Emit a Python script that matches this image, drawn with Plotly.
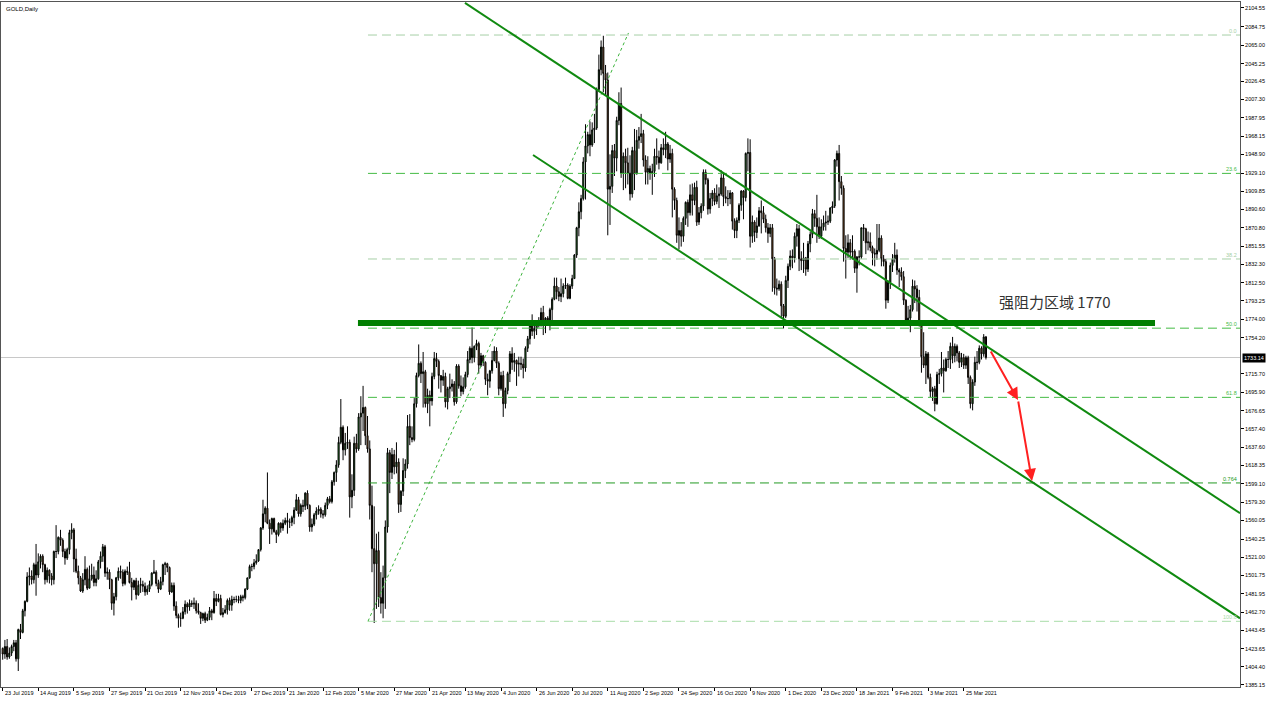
import plotly.graph_objects as go

# ---------------- data: daily GOLD candles (open, high, low, close) by month ----------------
ohlc_2019_07 = [(1424,1425,1412,1418),(1418,1433,1413,1426),(1426,1434,1412,1415),(1415,1425,1413,1419),
 (1419,1428,1416,1426),(1426,1433,1421,1430),(1430,1433,1410,1413)]
ohlc_2019_08 = [(1413,1445,1400,1444),(1444,1450,1434,1441),
 (1441,1466,1440,1464),(1464,1475,1458,1474),(1474,1505,1473,1500),(1500,1510,1491,1501),(1501,1507,1492,1497),
 (1497,1515,1493,1513),(1513,1535,1480,1502),(1502,1525,1499,1516),(1516,1524,1509,1522),(1522,1524,1505,1513),
 (1513,1514,1492,1497),(1497,1510,1494,1507),(1507,1508,1493,1501),(1501,1504,1491,1497),(1497,1528,1492,1527),
 (1527,1555,1520,1527),(1527,1543,1524,1542),(1542,1550,1533,1539),(1539,1541,1521,1527),(1527,1530,1513,1520)]
ohlc_2019_09 = [(1520,1531,1518,1529),(1529,1550,1524,1547),(1547,1557,1540,1550),(1550,1552,1505,1519),(1519,1530,1504,1506),
 (1506,1512,1492,1499),(1499,1501,1484,1485),(1485,1504,1483,1497),(1497,1522,1491,1508),(1508,1510,1486,1488),
 (1488,1512,1488,1498),(1498,1514,1496,1502),(1502,1511,1490,1494),(1494,1507,1490,1498),(1498,1518,1497,1516),
 (1516,1527,1509,1522),(1522,1535,1516,1532),(1532,1534,1500,1504),(1504,1510,1497,1505),(1505,1508,1487,1497),
 (1497,1498,1465,1472)]
ohlc_2019_10 = [(1472,1483,1459,1479),(1479,1500,1475,1499),(1499,1510,1496,1506),(1506,1512,1498,1505),
 (1505,1508,1490,1493),(1493,1508,1491,1506),(1506,1511,1502,1505),(1505,1516,1493,1494),(1494,1499,1475,1489),
 (1489,1497,1486,1496),(1496,1499,1476,1481),(1481,1496,1480,1491),(1491,1499,1483,1492),(1492,1496,1484,1490),
 (1490,1494,1480,1484),(1484,1491,1481,1487),(1487,1496,1484,1492),(1492,1505,1490,1504),(1504,1518,1503,1505),
 (1505,1507,1490,1493),(1493,1497,1483,1487),(1487,1500,1486,1495),(1495,1514,1491,1513)]
ohlc_2019_11 = [(1513,1516,1502,1514),
 (1514,1515,1505,1510),(1510,1511,1481,1484),(1484,1494,1483,1491),(1491,1494,1464,1469),(1469,1474,1456,1459),
 (1459,1461,1446,1456),(1456,1462,1447,1456),(1456,1468,1455,1463),(1463,1475,1460,1471),(1471,1473,1461,1468),
 (1468,1476,1464,1472),(1472,1475,1468,1471),(1471,1478,1466,1472),(1472,1475,1461,1464),(1464,1472,1460,1462),
 (1462,1463,1450,1456),(1456,1462,1453,1461),(1461,1463,1451,1454),(1454,1461,1453,1457),(1457,1468,1454,1464)]
ohlc_2019_12 = [(1464,1466,1454,1462),(1462,1485,1461,1477),(1477,1482,1469,1474),(1474,1482,1473,1477),(1477,1481,1459,1460),
 (1460,1467,1457,1462),(1462,1470,1461,1465),(1465,1477,1460,1475),(1475,1478,1464,1470),(1470,1480,1464,1476),
 (1476,1479,1472,1476),(1476,1480,1473,1476),(1476,1480,1472,1475),(1475,1481,1472,1479),(1479,1481,1474,1478),
 (1478,1488,1476,1487),(1487,1499,1486,1499),(1499,1513,1498,1511),(1511,1514,1506,1511),
 (1511,1519,1508,1515),(1515,1524,1513,1517)]
ohlc_2020_01 = [(1517,1529,1516,1529),(1529,1553,1527,1552),
 (1552,1582,1550,1567),(1567,1575,1558,1573),(1573,1611,1556,1557),(1557,1561,1535,1551),(1551,1563,1545,1562),
 (1562,1563,1547,1548),(1548,1550,1536,1545),(1545,1558,1543,1557),(1557,1558,1547,1552),(1552,1561,1549,1557),
 (1557,1563,1555,1560),(1560,1568,1546,1558),(1558,1562,1552,1558),(1558,1565,1554,1563),(1563,1574,1556,1571),
 (1571,1588,1570,1582),(1582,1585,1564,1567),(1567,1578,1564,1576),(1576,1582,1569,1575),(1575,1590,1571,1589)]
ohlc_2020_02 = [(1589,1592,1572,1576),(1576,1577,1548,1553),(1553,1562,1548,1556),(1556,1568,1554,1566),(1566,1574,1561,1570),
 (1570,1576,1566,1572),(1572,1574,1563,1567),(1567,1571,1562,1566),(1566,1579,1564,1576),(1576,1585,1572,1583),
 (1583,1586,1578,1580),(1580,1603,1578,1601),(1601,1612,1597,1611),(1611,1624,1601,1619),(1619,1649,1616,1643),
 (1643,1689,1641,1659),(1659,1661,1624,1635),(1635,1653,1629,1642),(1642,1660,1636,1643),(1643,1646,1563,1585)]
ohlc_2020_03 = [(1585,1609,1573,1592),(1592,1649,1586,1642),(1642,1652,1632,1636),(1636,1674,1634,1670),(1670,1692,1640,1674),
 (1674,1703,1655,1680),(1680,1681,1640,1650),(1650,1671,1632,1636),(1636,1645,1561,1576),(1576,1597,1505,1530),
 (1530,1575,1451,1514),(1514,1546,1466,1528),(1528,1548,1468,1478),(1478,1505,1461,1472),(1472,1512,1456,1499),
 (1499,1560,1466,1553),(1553,1637,1547,1632),(1632,1635,1589,1611),(1611,1637,1604,1630),(1630,1635,1609,1617),
 (1617,1643,1610,1622),(1622,1626,1568,1577)]
ohlc_2020_04 = [(1577,1592,1569,1591),(1591,1626,1586,1613),(1613,1625,1605,1620),
 (1620,1672,1615,1660),(1660,1673,1640,1648),(1648,1660,1643,1646),(1646,1690,1644,1684),
 (1684,1717,1680,1714),(1714,1747,1712,1727),(1727,1729,1706,1716),(1716,1739,1680,1718),(1718,1720,1680,1684),
 (1684,1700,1674,1693),(1693,1698,1660,1687),(1687,1717,1682,1713),(1713,1739,1710,1732),(1732,1738,1723,1729),
 (1729,1731,1700,1714),(1714,1714,1696,1709),(1709,1720,1703,1713),(1713,1717,1680,1686)]
ohlc_2020_05 = [(1686,1702,1678,1700),
 (1700,1716,1690,1702),(1702,1710,1697,1705),(1705,1708,1682,1686),(1686,1726,1684,1724),(1724,1726,1700,1703),
 (1703,1714,1692,1697),(1697,1712,1694,1702),(1702,1718,1700,1715),(1715,1740,1712,1731),(1731,1745,1727,1743),
 (1743,1765,1727,1733),(1733,1746,1728,1745),(1745,1752,1741,1748),(1748,1750,1716,1725),(1725,1738,1723,1735),
 (1735,1736,1724,1728),(1728,1729,1704,1710),(1710,1716,1693,1708),(1708,1720,1701,1719),(1719,1740,1716,1730)]
ohlc_2020_06 = [(1730,1745,1729,1740),(1740,1744,1722,1727),(1727,1729,1693,1700),(1700,1718,1698,1714),(1714,1719,1670,1684),
 (1684,1701,1679,1698),(1698,1718,1694,1716),(1716,1740,1707,1737),(1737,1744,1720,1728),(1728,1738,1718,1730),
 (1730,1731,1703,1726),(1726,1734,1713,1727),(1727,1734,1720,1726),(1726,1732,1711,1722),(1722,1745,1718,1743),
 (1743,1756,1739,1753),(1753,1769,1747,1768),(1768,1779,1756,1761),(1761,1768,1753,1764),(1764,1772,1757,1771),
 (1771,1776,1765,1772),(1772,1786,1766,1781)]
ohlc_2020_07 = [(1781,1788,1757,1769),(1769,1776,1759,1775),(1775,1777,1768,1773),
 (1773,1786,1762,1784),(1784,1797,1773,1795),(1795,1818,1794,1809),(1809,1818,1795,1803),(1803,1808,1793,1798),
 (1798,1817,1792,1801),(1801,1812,1797,1809),(1809,1818,1806,1810),(1810,1812,1795,1796),(1796,1811,1795,1809),
 (1809,1821,1806,1817),(1817,1843,1817,1842),(1842,1872,1839,1871),(1871,1898,1862,1888),(1888,1906,1880,1902),
 (1902,1946,1900,1941),(1941,1981,1901,1958),(1958,1973,1950,1970),(1970,1984,1947,1959),(1959,1983,1957,1975)]
ohlc_2020_08 = [(1975,1992,1961,1977),(1977,2020,1975,2018),(2018,2055,2016,2039),(2039,2070,2033,2063),(2063,2075,2015,2035),
 (2035,2044,2012,2028),(2028,2036,1863,1912),(1912,1949,1874,1915),(1915,1959,1908,1953),(1953,1960,1926,1945),
 (1945,1989,1931,1985),(1985,2015,1980,2003),(2003,2020,1924,1929),(1929,1951,1911,1947),(1947,1955,1913,1940),
 (1940,1956,1917,1929),(1929,1948,1900,1907),(1907,1957,1903,1953),(1953,1976,1911,1928),(1928,1975,1928,1964),
 (1964,1978,1955,1968)]
ohlc_2020_09 = [(1968,1992,1961,1971),(1971,1975,1936,1943),(1943,1948,1917,1930),(1930,1947,1917,1934),
 (1934,1937,1922,1929),(1929,1939,1906,1931),(1931,1955,1925,1947),(1947,1966,1938,1946),(1946,1953,1933,1940),
 (1940,1960,1939,1956),(1956,1966,1948,1954),(1954,1973,1945,1960),(1960,1962,1932,1944),(1944,1959,1940,1950),
 (1950,1955,1882,1912),(1912,1914,1890,1900),(1900,1903,1855,1863),(1863,1882,1848,1868),(1868,1877,1851,1862),
 (1862,1883,1856,1881),(1881,1899,1874,1898),(1898,1901,1872,1887)]
ohlc_2020_10 = [(1887,1917,1884,1906),(1906,1918,1884,1900),
 (1900,1919,1895,1914),(1914,1921,1873,1877),(1877,1893,1874,1887),(1887,1897,1881,1894),(1894,1933,1889,1930),
 (1930,1933,1917,1922),(1922,1924,1885,1891),(1891,1908,1886,1902),(1902,1911,1894,1908),(1908,1913,1895,1899),
 (1899,1917,1896,1905),(1905,1914,1892,1907),(1907,1932,1905,1924),(1924,1929,1894,1904),(1904,1915,1897,1902),
 (1902,1911,1894,1902),(1902,1911,1896,1908),(1908,1909,1869,1878),(1878,1881,1860,1868),(1868,1882,1860,1879)]
ohlc_2020_11 = [(1879,1897,1876,1895),(1895,1911,1889,1910),(1910,1911,1880,1903),(1903,1951,1899,1950),(1950,1966,1931,1951),
 (1951,1965,1850,1862),(1862,1884,1855,1877),(1877,1879,1856,1866),(1866,1882,1860,1873),(1873,1893,1872,1889),
 (1889,1900,1865,1887),(1887,1894,1876,1880),(1880,1885,1866,1871),(1871,1876,1855,1865),(1865,1875,1861,1871),
 (1871,1875,1803,1838),(1838,1840,1800,1807),(1807,1817,1799,1806),(1806,1815,1804,1811),(1811,1814,1775,1788),
 (1788,1790,1764,1777)]
ohlc_2020_12 = [(1777,1820,1775,1815),(1815,1833,1807,1830),(1830,1847,1826,1841),(1841,1848,1828,1839),
 (1839,1866,1834,1862),(1862,1875,1851,1870),(1870,1874,1825,1838),(1838,1846,1826,1836),(1836,1855,1823,1839),
 (1839,1840,1820,1827),(1827,1857,1824,1854),(1854,1867,1845,1864),(1864,1891,1860,1886),(1886,1890,1872,1881),
 (1881,1906,1855,1872),(1872,1882,1859,1862),(1862,1880,1859,1872),(1872,1884,1868,1876),
 (1876,1889,1868,1877),(1877,1884,1874,1878),(1878,1893,1876,1892),(1892,1899,1886,1894)]
ohlc_2021_01 = [(1894,1944,1892,1943),(1943,1953,1936,1950),(1950,1959,1900,1920),(1920,1926,1906,1913),(1913,1916,1835,1849),
 (1849,1863,1817,1845),(1845,1864,1839,1855),(1855,1859,1837,1845),(1845,1863,1837,1846),(1846,1848,1823,1828),
 (1828,1841,1802,1840),(1840,1847,1831,1840),(1840,1871,1838,1871),(1871,1875,1857,1870),(1870,1871,1843,1855),
 (1855,1867,1847,1856),(1856,1866,1846,1850),(1850,1852,1831,1844),(1844,1849,1830,1843),(1843,1875,1837,1847)]
ohlc_2021_02 = [(1847,1875,1845,1860),(1860,1863,1830,1838),(1838,1842,1830,1835),(1835,1838,1785,1794),(1794,1815,1791,1813),
 (1813,1834,1806,1831),(1831,1843,1824,1838),(1838,1855,1834,1842),(1842,1848,1821,1826),(1826,1828,1808,1824),
 (1824,1829,1815,1819),(1819,1825,1789,1794),(1794,1795,1769,1773),(1773,1788,1767,1775),(1775,1789,1760,1784),
 (1784,1816,1782,1809),(1809,1815,1791,1806),(1806,1810,1782,1797),(1797,1805,1766,1770),(1770,1771,1717,1734)]
ohlc_2021_03 = [(1734,1760,1722,1725),(1725,1740,1705,1737),(1737,1739,1710,1712),(1712,1716,1691,1697),(1697,1702,1687,1700),
 (1700,1703,1676,1684),(1684,1718,1683,1715),(1715,1721,1705,1716),(1716,1739,1713,1722),(1722,1731,1696,1719),
 (1719,1733,1718,1731),(1731,1740,1722,1731),(1731,1749,1721,1745),(1745,1755,1727,1735),(1735,1748,1728,1745),
 (1745,1747,1729,1738),(1738,1740,1722,1728),(1728,1738,1723,1733),(1733,1737,1721,1725),(1725,1735,1721,1733),
 (1733,1735,1705,1712),(1712,1714,1679,1684),(1684,1710,1677,1707)]
ohlc_2021_04 = [(1707,1734,1703,1728),(1728,1740,1720,1728),(1728,1746,1726,1743),(1743,1745,1731,1737),
 (1737,1758,1734,1755),(1755,1756,1731,1733.14)]

months = [ohlc_2019_07, ohlc_2019_08, ohlc_2019_09, ohlc_2019_10, ohlc_2019_11, ohlc_2019_12,
          ohlc_2020_01, ohlc_2020_02, ohlc_2020_03, ohlc_2020_04, ohlc_2020_05, ohlc_2020_06,
          ohlc_2020_07, ohlc_2020_08, ohlc_2020_09, ohlc_2020_10, ohlc_2020_11, ohlc_2020_12,
          ohlc_2021_01, ohlc_2021_02, ohlc_2021_03, ohlc_2021_04]

# x-axis (bar index) labels, one every 16 bars
x_tick_labels = ["23 Jul 2019", "14 Aug 2019", "5 Sep 2019", "27 Sep 2019", "21 Oct 2019", "12 Nov 2019",
                 "4 Dec 2019", "27 Dec 2019", "21 Jan 2020", "12 Feb 2020", "5 Mar 2020", "27 Mar 2020",
                 "21 Apr 2020", "13 May 2020", "4 Jun 2020", "26 Jun 2020", "20 Jul 2020", "11 Aug 2020",
                 "2 Sep 2020", "24 Sep 2020", "16 Oct 2020", "9 Nov 2020", "1 Dec 2020", "23 Dec 2020",
                 "18 Jan 2021", "9 Feb 2021", "3 Mar 2021", "25 Mar 2021"]
x_tick_step = 16

y_tick_labels = ["2104.55", "2084.75", "2065.00", "2045.25", "2026.45", "2007.30", "1987.95", "1968.15",
                 "1948.90", "1929.10", "1909.85", "1890.60", "1870.80", "1851.55", "1832.30", "1812.50",
                 "1793.25", "1774.00", "1754.20", "1715.70", "1695.90", "1676.65", "1657.40", "1637.60",
                 "1618.35", "1599.10", "1579.30", "1560.05", "1540.25", "1521.00", "1501.75", "1481.95",
                 "1462.70", "1443.45", "1423.65", "1404.40", "1385.15"]

current_price = 1733.14

# Fibonacci retracement
fib_high = 2075.8
fib_low = 1452.8
fib_start_bar = 164.2
fib_levels = [0.0, 23.6, 38.2, 50.0, 61.8, 76.4, 100.0]
fib_texts = ["0.0", "23.6", "38.2", "50.0", "61.8", "0.764", "100.0"]
fib_colors = ["#a6cfa6", "#44bb44", "#a6cfa6", "#44bb44", "#44bb44", "#229922", "#a8dca8"]
fib_trend = [(164.2, 1452.8), (281.3, 2078.0)]

# channel lines (bar index, price)
channel_upper = [(207.8, 2109.9), (556.2, 1567.7)]
channel_lower = [(238.4, 1948.3), (556.2, 1456.0)]

# resistance zone
resist_x = (159.7, 518.0)
resist_y = (1766.5, 1773.0)
resist_text = "强阻力区域 1770"
resist_text_pos = (473.0, 1792.5)

# projected path (red arrows)
arrow_path = [(443.8, 1741.0), (456.4, 1688.0), (462.7, 1602.0)]

x_range = [-0.76, 556.2]
y_range = [1383.0, 2110.9]

# ---------------- build ----------------
rows = [r for m in months for r in m]
opens = [r[0] for r in rows]
highs = [r[1] for r in rows]
lows = [r[2] for r in rows]
closes = [r[3] for r in rows]
xs = list(range(len(rows)))

fig = go.Figure()
fig.add_trace(go.Candlestick(
    x=xs, open=opens, high=highs, low=lows, close=closes,
    increasing=dict(line=dict(color="#000000", width=1), fillcolor="#2ca02c"),
    decreasing=dict(line=dict(color="#000000", width=1), fillcolor="#b06a2a"),
    whiskerwidth=0, showlegend=False, hoverinfo="skip"))

shapes = []
shapes.append(dict(type="line", xref="paper", x0=0, x1=1, yref="y", y0=current_price, y1=current_price,
                   line=dict(color="#c8c8c8", width=1), layer="below"))
annotations = []
for lv, txt, col in zip(fib_levels, fib_texts, fib_colors):
    price = fib_high - (fib_high - fib_low) * lv / 100.0
    shapes.append(dict(type="line", xref="x", x0=fib_start_bar, x1=x_range[1], yref="y", y0=price, y1=price,
                       line=dict(color=col, width=1, dash="9px,5px")))
    annotations.append(dict(xref="paper", x=0.999, xanchor="right", yref="y", y=price, yanchor="bottom",
                            text=txt, showarrow=False, font=dict(size=5.5, color=col, family="Liberation Sans"),
                            yshift=-1))
shapes.append(dict(type="line", xref="x", yref="y", x0=fib_trend[0][0], y0=fib_trend[0][1],
                   x1=fib_trend[1][0], y1=fib_trend[1][1], line=dict(color="#3cb43c", width=1, dash="dot")))
for ch in (channel_upper, channel_lower):
    shapes.append(dict(type="line", xref="x", yref="y", x0=ch[0][0], y0=ch[0][1], x1=ch[1][0], y1=ch[1][1],
                       line=dict(color="#108a10", width=2)))
shapes.append(dict(type="rect", xref="x", yref="y", x0=resist_x[0], x1=resist_x[1], y0=resist_y[0], y1=resist_y[1],
                   fillcolor="#007f00", line=dict(width=0)))

annotations.append(dict(xref="x", yref="y", x=resist_text_pos[0], y=resist_text_pos[1], text=resist_text,
                        showarrow=False, font=dict(size=15, color="#333333", family="Noto Sans CJK SC")))

for (x0, y0), (x1, y1) in zip(arrow_path[:-1], arrow_path[1:]):
    annotations.append(dict(xref="x", yref="y", axref="x", ayref="y", x=x1, y=y1, ax=x0, ay=y0, text="",
                            showarrow=True, arrowhead=2, arrowsize=1.2, arrowwidth=2, arrowcolor="#ff2020"))

x_tick_vals = [i * x_tick_step for i in range(len(x_tick_labels))]
for v, t in zip(x_tick_vals, x_tick_labels):
    annotations.append(dict(xref="x", yref="paper", x=v, y=0, xanchor="left", yanchor="top", xshift=0, yshift=-1,
                            text=t, showarrow=False, font=dict(size=5.5, color="#000000", family="Liberation Sans")))

annotations.append(dict(xref="paper", x=1, xanchor="left", xshift=2, yref="y", y=current_price, yanchor="middle",
                        text=f"{current_price:.2f}", showarrow=False, bgcolor="#000000", borderpad=1,
                        font=dict(size=5.5, color="#ffffff", family="Liberation Sans")))
annotations.append(dict(xref="paper", yref="paper", x=0, y=1, xanchor="left", yanchor="top", xshift=3, yshift=-2,
                        text="GOLD,Daily", showarrow=False, font=dict(size=6, color="#000000", family="Liberation Sans")))

fig.update_layout(
    width=1269, height=701, margin=dict(l=1, r=29, t=2, b=14),
    paper_bgcolor="#ffffff", plot_bgcolor="#ffffff",
    shapes=shapes, annotations=annotations, showlegend=False,
    xaxis=dict(range=x_range, type="linear", rangeslider=dict(visible=False), showgrid=False, zeroline=False,
               tickvals=x_tick_vals, showticklabels=False, ticks="outside", ticklen=3, tickcolor="#000000",
               showline=True, linecolor="#555555", linewidth=1, mirror=True),
    yaxis=dict(range=y_range, side="right", showgrid=False, zeroline=False,
               tickvals=[float(t) for t in y_tick_labels], ticktext=y_tick_labels,
               ticks="outside", ticklen=3, tickcolor="#000000",
               tickfont=dict(size=5.5, color="#000000", family="Liberation Sans"),
               showline=True, linecolor="#555555", linewidth=1, mirror=True),
)

fig.write_html("out.html", config={"displayModeBar": False},
               post_script="document.body.style.margin='0';document.body.style.overflow='hidden';")
